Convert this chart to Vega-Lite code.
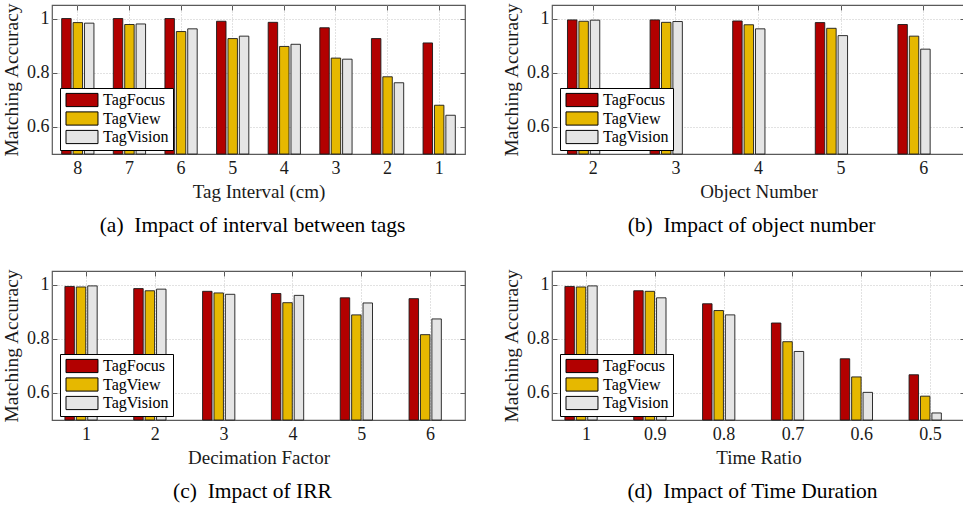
{
  "$schema": "https://vega.github.io/schema/vega-lite/v6.json",
  "background": "white",
  "padding": {"left": 0, "top": 1, "right": 0, "bottom": 0},
  "config": {
    "font": "Liberation Serif",
    "view": {"stroke": "#5a5a5a", "strokeWidth": 1.2},
    "axis": {
      "labelFont": "Liberation Serif", "titleFont": "Liberation Serif",
      "labelFontSize": 18, "titleFontSize": 19, "titleFontWeight": "normal",
      "labelColor": "#1a1a1a", "titleColor": "#1a1a1a",
      "domain": false, "tickColor": "#5a5a5a", "tickWidth": 1,
      "gridColor": "#c4c4c4", "gridDash": [1, 2], "gridWidth": 1
    },
    "legend": {
      "orient": "none", "legendX": 8, "legendY": 83, "padding": 4, "rowPadding": 0.5,
      "fillColor": "white", "strokeColor": "#000000", "strokeWidth": 1,
      "labelFont": "Liberation Serif", "labelFontSize": 16, "labelColor": "#000000",
      "symbolType": "M-1,-1.1H4.33V1.1H-1Z", "symbolSize": 144,
      "symbolStrokeColor": "#000000", "symbolStrokeWidth": 1, "symbolOpacity": 1,
      "labelOffset": 23
    },
    "title": {"font": "Liberation Serif", "fontSize": 21.5, "fontWeight": "normal", "color": "#000000", "orient": "bottom", "anchor": "middle"}
  },
  "datasets": {
    "a": [
      {"g": "8", "m": "TagFocus", "v": 1.0}, {"g": "8", "m": "TagView", "v": 0.985}, {"g": "8", "m": "TagVision", "v": 0.983},
      {"g": "7", "m": "TagFocus", "v": 1.0}, {"g": "7", "m": "TagView", "v": 0.978}, {"g": "7", "m": "TagVision", "v": 0.980},
      {"g": "6", "m": "TagFocus", "v": 1.0}, {"g": "6", "m": "TagView", "v": 0.952}, {"g": "6", "m": "TagVision", "v": 0.962},
      {"g": "5", "m": "TagFocus", "v": 0.990}, {"g": "5", "m": "TagView", "v": 0.926}, {"g": "5", "m": "TagVision", "v": 0.935},
      {"g": "4", "m": "TagFocus", "v": 0.986}, {"g": "4", "m": "TagView", "v": 0.897}, {"g": "4", "m": "TagVision", "v": 0.905},
      {"g": "3", "m": "TagFocus", "v": 0.966}, {"g": "3", "m": "TagView", "v": 0.854}, {"g": "3", "m": "TagVision", "v": 0.850},
      {"g": "2", "m": "TagFocus", "v": 0.926}, {"g": "2", "m": "TagView", "v": 0.785}, {"g": "2", "m": "TagVision", "v": 0.763},
      {"g": "1", "m": "TagFocus", "v": 0.910}, {"g": "1", "m": "TagView", "v": 0.680}, {"g": "1", "m": "TagVision", "v": 0.643}
    ],
    "b": [
      {"g": "2", "m": "TagFocus", "v": 0.995}, {"g": "2", "m": "TagView", "v": 0.990}, {"g": "2", "m": "TagVision", "v": 0.994},
      {"g": "3", "m": "TagFocus", "v": 0.995}, {"g": "3", "m": "TagView", "v": 0.986}, {"g": "3", "m": "TagVision", "v": 0.989},
      {"g": "4", "m": "TagFocus", "v": 0.991}, {"g": "4", "m": "TagView", "v": 0.977}, {"g": "4", "m": "TagVision", "v": 0.962},
      {"g": "5", "m": "TagFocus", "v": 0.985}, {"g": "5", "m": "TagView", "v": 0.964}, {"g": "5", "m": "TagVision", "v": 0.937},
      {"g": "6", "m": "TagFocus", "v": 0.978}, {"g": "6", "m": "TagView", "v": 0.935}, {"g": "6", "m": "TagVision", "v": 0.887}
    ],
    "c": [
      {"g": "1", "m": "TagFocus", "v": 0.993}, {"g": "1", "m": "TagView", "v": 0.991}, {"g": "1", "m": "TagVision", "v": 0.995},
      {"g": "2", "m": "TagFocus", "v": 0.985}, {"g": "2", "m": "TagView", "v": 0.977}, {"g": "2", "m": "TagVision", "v": 0.983},
      {"g": "3", "m": "TagFocus", "v": 0.975}, {"g": "3", "m": "TagView", "v": 0.969}, {"g": "3", "m": "TagVision", "v": 0.964},
      {"g": "4", "m": "TagFocus", "v": 0.967}, {"g": "4", "m": "TagView", "v": 0.933}, {"g": "4", "m": "TagVision", "v": 0.960},
      {"g": "5", "m": "TagFocus", "v": 0.951}, {"g": "5", "m": "TagView", "v": 0.888}, {"g": "5", "m": "TagVision", "v": 0.932},
      {"g": "6", "m": "TagFocus", "v": 0.948}, {"g": "6", "m": "TagView", "v": 0.815}, {"g": "6", "m": "TagVision", "v": 0.873}
    ],
    "d": [
      {"g": "1", "m": "TagFocus", "v": 0.993}, {"g": "1", "m": "TagView", "v": 0.991}, {"g": "1", "m": "TagVision", "v": 0.995},
      {"g": "0.9", "m": "TagFocus", "v": 0.977}, {"g": "0.9", "m": "TagView", "v": 0.975}, {"g": "0.9", "m": "TagVision", "v": 0.951},
      {"g": "0.8", "m": "TagFocus", "v": 0.929}, {"g": "0.8", "m": "TagView", "v": 0.904}, {"g": "0.8", "m": "TagVision", "v": 0.888},
      {"g": "0.7", "m": "TagFocus", "v": 0.858}, {"g": "0.7", "m": "TagView", "v": 0.789}, {"g": "0.7", "m": "TagVision", "v": 0.753},
      {"g": "0.6", "m": "TagFocus", "v": 0.726}, {"g": "0.6", "m": "TagView", "v": 0.659}, {"g": "0.6", "m": "TagVision", "v": 0.602},
      {"g": "0.5", "m": "TagFocus", "v": 0.667}, {"g": "0.5", "m": "TagView", "v": 0.588}, {"g": "0.5", "m": "TagVision", "v": 0.526}
    ]
  },
  "resolve": {"scale": {"color": "independent"}, "legend": {"color": "independent"}},
  "spacing": 29,
  "vconcat": [
    {
      "spacing": 33,
      "resolve": {"scale": {"color": "independent"}, "legend": {"color": "independent"}},
      "hconcat": [
        {
          "width": 413, "height": 149,
          "data": {"name": "a"},
          "title": {"text": "(a)\u2002Impact of interval between tags", "offset": 14, "dx": -6},
          "resolve": {"axis": {"x": "independent", "y": "independent"}},
          "layer": [
            {
              "mark": {"type": "bar", "stroke": "#1a1a1a", "strokeWidth": 0.9},
              "encoding": {
                "x": {"field": "g", "type": "nominal", "sort": ["8","7","6","5","4","3","2","1"],
                      "scale": {"paddingInner": 0.375, "paddingOuter": 0.1875},
                      "axis": {"title": "Tag Interval (cm)", "labelAngle": 0, "ticks": false, "grid": true, "bandPosition": 0.5, "labelPadding": 5, "titlePadding": 5}},
                "xOffset": {"field": "m", "type": "nominal", "sort": ["TagFocus","TagView","TagVision"], "scale": {"paddingInner": 0.17, "paddingOuter": 0}},
                "y": {"field": "v", "type": "quantitative", "scale": {"domain": [0.5, 1.05], "nice": false, "zero": false},
                      "axis": {"title": "Matching Accuracy", "titleFontSize": 19.5, "values": [0.6, 0.8, 1], "format": "~g", "tickSize": -5, "labelPadding": 8, "titlePadding": 5, "grid": true}},
                "y2": {"datum": 0.5},
                "color": {"field": "m", "type": "nominal", "sort": ["TagFocus","TagView","TagVision"],
                          "scale": {"domain": ["TagFocus","TagView","TagVision"], "range": ["#b20000", "#e6b800", "#e5e5e5"]},
                          "legend": {"title": null}}
              }
            },
            {
              "mark": {"type": "bar", "opacity": 0},
              "encoding": {
                "x": {"field": "g", "type": "nominal", "sort": ["8","7","6","5","4","3","2","1"],
                      "axis": {"orient": "top", "labels": false, "title": null, "grid": false, "tickSize": -5, "bandPosition": 0.5}},
                "y": {"field": "v", "type": "quantitative",
                      "axis": {"orient": "right", "labels": false, "title": null, "grid": false, "tickSize": -5, "values": [0.6, 0.8, 1]}},
                "y2": {"datum": 0.5}
              }
            }
          ]
        },
        {
          "width": 413, "height": 149,
          "data": {"name": "b"},
          "title": {"text": "(b)\u2002Impact of object number", "offset": 14, "dx": -7},
          "resolve": {"axis": {"x": "independent", "y": "independent"}},
          "layer": [
            {
              "mark": {"type": "bar", "stroke": "#1a1a1a", "strokeWidth": 0.9},
              "encoding": {
                "x": {"field": "g", "type": "nominal", "sort": ["2","3","4","5","6"],
                      "scale": {"paddingInner": 0.375, "paddingOuter": 0.1875},
                      "axis": {"title": "Object Number", "labelAngle": 0, "ticks": false, "grid": true, "bandPosition": 0.5, "labelPadding": 5, "titlePadding": 5}},
                "xOffset": {"field": "m", "type": "nominal", "sort": ["TagFocus","TagView","TagVision"], "scale": {"paddingInner": 0.17, "paddingOuter": 0}},
                "y": {"field": "v", "type": "quantitative", "scale": {"domain": [0.5, 1.05], "nice": false, "zero": false},
                      "axis": {"title": "Matching Accuracy", "titleFontSize": 19.5, "values": [0.6, 0.8, 1], "format": "~g", "tickSize": -5, "labelPadding": 8, "titlePadding": 5, "grid": true}},
                "y2": {"datum": 0.5},
                "color": {"field": "m", "type": "nominal", "sort": ["TagFocus","TagView","TagVision"],
                          "scale": {"domain": ["TagFocus","TagView","TagVision"], "range": ["#b20000", "#e6b800", "#e5e5e5"]},
                          "legend": {"title": null}}
              }
            },
            {
              "mark": {"type": "bar", "opacity": 0},
              "encoding": {
                "x": {"field": "g", "type": "nominal", "sort": ["2","3","4","5","6"],
                      "axis": {"orient": "top", "labels": false, "title": null, "grid": false, "tickSize": -5, "bandPosition": 0.5}},
                "y": {"field": "v", "type": "quantitative",
                      "axis": {"orient": "right", "labels": false, "title": null, "grid": false, "tickSize": -5, "values": [0.6, 0.8, 1]}},
                "y2": {"datum": 0.5}
              }
            }
          ]
        }
      ]
    },
    {
      "spacing": 33,
      "resolve": {"scale": {"color": "independent"}, "legend": {"color": "independent"}},
      "hconcat": [
        {
          "width": 413, "height": 149,
          "data": {"name": "c"},
          "title": {"text": "(c)\u2002Impact of IRR", "offset": 14, "dx": -6},
          "resolve": {"axis": {"x": "independent", "y": "independent"}},
          "layer": [
            {
              "mark": {"type": "bar", "stroke": "#1a1a1a", "strokeWidth": 0.9},
              "encoding": {
                "x": {"field": "g", "type": "nominal", "sort": ["1","2","3","4","5","6"],
                      "scale": {"paddingInner": 0.375, "paddingOuter": 0.1875},
                      "axis": {"title": "Decimation Factor", "labelAngle": 0, "ticks": false, "grid": true, "bandPosition": 0.5, "labelPadding": 5, "titlePadding": 5}},
                "xOffset": {"field": "m", "type": "nominal", "sort": ["TagFocus","TagView","TagVision"], "scale": {"paddingInner": 0.17, "paddingOuter": 0}},
                "y": {"field": "v", "type": "quantitative", "scale": {"domain": [0.5, 1.05], "nice": false, "zero": false},
                      "axis": {"title": "Matching Accuracy", "titleFontSize": 19.5, "values": [0.6, 0.8, 1], "format": "~g", "tickSize": -5, "labelPadding": 8, "titlePadding": 5, "grid": true}},
                "y2": {"datum": 0.5},
                "color": {"field": "m", "type": "nominal", "sort": ["TagFocus","TagView","TagVision"],
                          "scale": {"domain": ["TagFocus","TagView","TagVision"], "range": ["#b20000", "#e6b800", "#e5e5e5"]},
                          "legend": {"title": null}}
              }
            },
            {
              "mark": {"type": "bar", "opacity": 0},
              "encoding": {
                "x": {"field": "g", "type": "nominal", "sort": ["1","2","3","4","5","6"],
                      "axis": {"orient": "top", "labels": false, "title": null, "grid": false, "tickSize": -5, "bandPosition": 0.5}},
                "y": {"field": "v", "type": "quantitative",
                      "axis": {"orient": "right", "labels": false, "title": null, "grid": false, "tickSize": -5, "values": [0.6, 0.8, 1]}},
                "y2": {"datum": 0.5}
              }
            }
          ]
        },
        {
          "width": 413, "height": 149,
          "data": {"name": "d"},
          "title": {"text": "(d)\u2002Impact of Time Duration", "offset": 14, "dx": -6},
          "resolve": {"axis": {"x": "independent", "y": "independent"}},
          "layer": [
            {
              "mark": {"type": "bar", "stroke": "#1a1a1a", "strokeWidth": 0.9},
              "encoding": {
                "x": {"field": "g", "type": "nominal", "sort": ["1","0.9","0.8","0.7","0.6","0.5"],
                      "scale": {"paddingInner": 0.375, "paddingOuter": 0.1875},
                      "axis": {"title": "Time Ratio", "labelAngle": 0, "ticks": false, "grid": true, "bandPosition": 0.5, "labelPadding": 5, "titlePadding": 5}},
                "xOffset": {"field": "m", "type": "nominal", "sort": ["TagFocus","TagView","TagVision"], "scale": {"paddingInner": 0.17, "paddingOuter": 0}},
                "y": {"field": "v", "type": "quantitative", "scale": {"domain": [0.5, 1.05], "nice": false, "zero": false},
                      "axis": {"title": "Matching Accuracy", "titleFontSize": 19.5, "values": [0.6, 0.8, 1], "format": "~g", "tickSize": -5, "labelPadding": 8, "titlePadding": 5, "grid": true}},
                "y2": {"datum": 0.5},
                "color": {"field": "m", "type": "nominal", "sort": ["TagFocus","TagView","TagVision"],
                          "scale": {"domain": ["TagFocus","TagView","TagVision"], "range": ["#b20000", "#e6b800", "#e5e5e5"]},
                          "legend": {"title": null}}
              }
            },
            {
              "mark": {"type": "bar", "opacity": 0},
              "encoding": {
                "x": {"field": "g", "type": "nominal", "sort": ["1","0.9","0.8","0.7","0.6","0.5"],
                      "axis": {"orient": "top", "labels": false, "title": null, "grid": false, "tickSize": -5, "bandPosition": 0.5}},
                "y": {"field": "v", "type": "quantitative",
                      "axis": {"orient": "right", "labels": false, "title": null, "grid": false, "tickSize": -5, "values": [0.6, 0.8, 1]}},
                "y2": {"datum": 0.5}
              }
            }
          ]
        }
      ]
    }
  ]
}
